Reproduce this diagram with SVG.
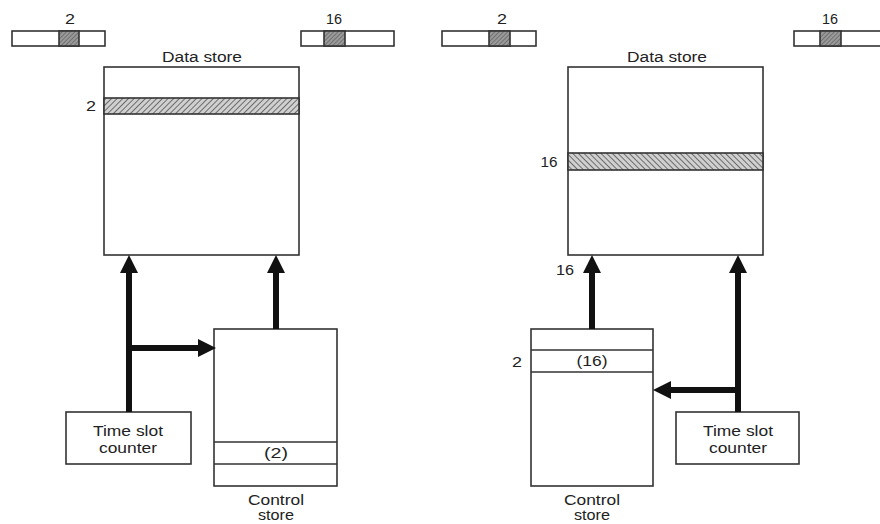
<svg xmlns="http://www.w3.org/2000/svg" width="880" height="524" viewBox="0 0 880 524">
<style>
.box{fill:#fff;stroke:#333;stroke-width:1.6}
.t{font-family:"Liberation Sans",Arial,sans-serif;font-size:14px;fill:#222;text-anchor:middle}
.arr{stroke:#111;stroke-width:6;fill:none}
.sep{stroke:#333;stroke-width:1.6}
</style>
<defs>
<pattern id="hatchF" width="4" height="4" patternUnits="userSpaceOnUse" patternTransform="rotate(45)">
<rect width="4" height="4" fill="#d0d0d0"/><line x1="0" y1="0" x2="0" y2="4" stroke="#4a4a4a" stroke-width="1.5"/>
</pattern>
<pattern id="hatchB" width="4" height="4" patternUnits="userSpaceOnUse" patternTransform="rotate(-45)">
<rect width="4" height="4" fill="#d0d0d0"/><line x1="0" y1="0" x2="0" y2="4" stroke="#4a4a4a" stroke-width="1.5"/>
</pattern>
<pattern id="dark" width="3" height="3" patternUnits="userSpaceOnUse" patternTransform="rotate(45)">
<rect width="3" height="3" fill="#9a9a9a"/><line x1="0" y1="0" x2="0" y2="3" stroke="#555" stroke-width="1.2"/>
</pattern>
<marker id="head" markerUnits="userSpaceOnUse" markerWidth="18" markerHeight="18" refX="0" refY="8" orient="auto" viewBox="0 0 16 16">
<path d="M0,0 L16,8 L0,16 z" fill="#111"/>
</marker>
</defs>

<!-- Left panel -->
<g id="frame-left-in">
<text class="t" x="70" y="24" textLength="10" lengthAdjust="spacingAndGlyphs">2</text>
<rect class="box" x="12" y="31" width="93" height="15"/>
<rect x="59" y="31" width="20" height="15" fill="url(#dark)" stroke="#333" stroke-width="1.6"/>
</g>
<g id="frame-left-out">
<text class="t" x="334" y="24" textLength="16" lengthAdjust="spacingAndGlyphs">16</text>
<rect class="box" x="301" y="31" width="93" height="15"/>
<rect x="324" y="31" width="21" height="15" fill="url(#dark)" stroke="#333" stroke-width="1.6"/>
</g>
<g id="data-store-left">
<text class="t" x="202" y="62" textLength="80" lengthAdjust="spacingAndGlyphs">Data store</text>
<rect class="box" x="104" y="67" width="195" height="188"/>
<rect x="104" y="98" width="195" height="16" fill="url(#hatchF)" stroke="#333" stroke-width="1.6"/>
<text class="t" x="91" y="111" textLength="10" lengthAdjust="spacingAndGlyphs">2</text>
</g>
<g id="control-store-left">
<rect class="box" x="214" y="329" width="123" height="157"/>
<line class="sep" x1="214" y1="442" x2="337" y2="442"/>
<line class="sep" x1="214" y1="464" x2="337" y2="464"/>
<text class="t" x="276" y="458" textLength="24" lengthAdjust="spacingAndGlyphs">(2)</text>
<text class="t" x="276" y="505" textLength="56" lengthAdjust="spacingAndGlyphs">Control</text>
<text class="t" x="276" y="520" textLength="36" lengthAdjust="spacingAndGlyphs">store</text>
</g>
<g id="time-slot-counter-left">
<rect class="box" x="66" y="412" width="125" height="52"/>
<text class="t" x="128" y="436" textLength="70" lengthAdjust="spacingAndGlyphs">Time slot</text>
<text class="t" x="128" y="453" textLength="58" lengthAdjust="spacingAndGlyphs">counter</text>
</g>

<!-- Right panel -->
<g id="frame-right-in">
<text class="t" x="502" y="24" textLength="10" lengthAdjust="spacingAndGlyphs">2</text>
<rect class="box" x="442" y="31" width="94" height="15"/>
<rect x="489" y="31" width="21" height="15" fill="url(#dark)" stroke="#333" stroke-width="1.6"/>
</g>
<g id="frame-right-out">
<text class="t" x="830" y="24" textLength="16" lengthAdjust="spacingAndGlyphs">16</text>
<rect class="box" x="794" y="31" width="96" height="15"/>
<rect x="820" y="31" width="21" height="15" fill="url(#dark)" stroke="#333" stroke-width="1.6"/>
</g>
<g id="data-store-right">
<text class="t" x="667" y="62" textLength="80" lengthAdjust="spacingAndGlyphs">Data store</text>
<rect class="box" x="568" y="67" width="195" height="188"/>
<rect x="568" y="153" width="195" height="17" fill="url(#hatchB)" stroke="#333" stroke-width="1.6"/>
<text class="t" x="549" y="167" textLength="17" lengthAdjust="spacingAndGlyphs">16</text>
</g>
<g id="control-store-right">
<rect class="box" x="531" y="329" width="122" height="157"/>
<line class="sep" x1="531" y1="350" x2="653" y2="350"/>
<line class="sep" x1="531" y1="372" x2="653" y2="372"/>
<text class="t" x="592" y="366" textLength="31" lengthAdjust="spacingAndGlyphs">(16)</text>
<text class="t" x="517" y="367" textLength="10" lengthAdjust="spacingAndGlyphs">2</text>
<text class="t" x="592" y="505" textLength="56" lengthAdjust="spacingAndGlyphs">Control</text>
<text class="t" x="592" y="520" textLength="36" lengthAdjust="spacingAndGlyphs">store</text>
</g>
<g id="time-slot-counter-right">
<rect class="box" x="676" y="412" width="123" height="52"/>
<text class="t" x="738" y="436" textLength="70" lengthAdjust="spacingAndGlyphs">Time slot</text>
<text class="t" x="738" y="453" textLength="58" lengthAdjust="spacingAndGlyphs">counter</text>
</g>

<g id="connectors">
<line class="arr" x1="129" y1="412" x2="129" y2="273" marker-end="url(#head)"/>
<line class="arr" x1="129" y1="348" x2="198" y2="348" marker-end="url(#head)"/>
<line class="arr" x1="276" y1="329" x2="276" y2="273" marker-end="url(#head)"/>
<line class="arr" x1="592" y1="329" x2="592" y2="273" marker-end="url(#head)"/>
<line class="arr" x1="738" y1="412" x2="738" y2="273" marker-end="url(#head)"/>
<line class="arr" x1="741" y1="390" x2="671" y2="390" marker-end="url(#head)"/>
<text class="t" x="565" y="275" textLength="18" lengthAdjust="spacingAndGlyphs">16</text>
</g>
</svg>
